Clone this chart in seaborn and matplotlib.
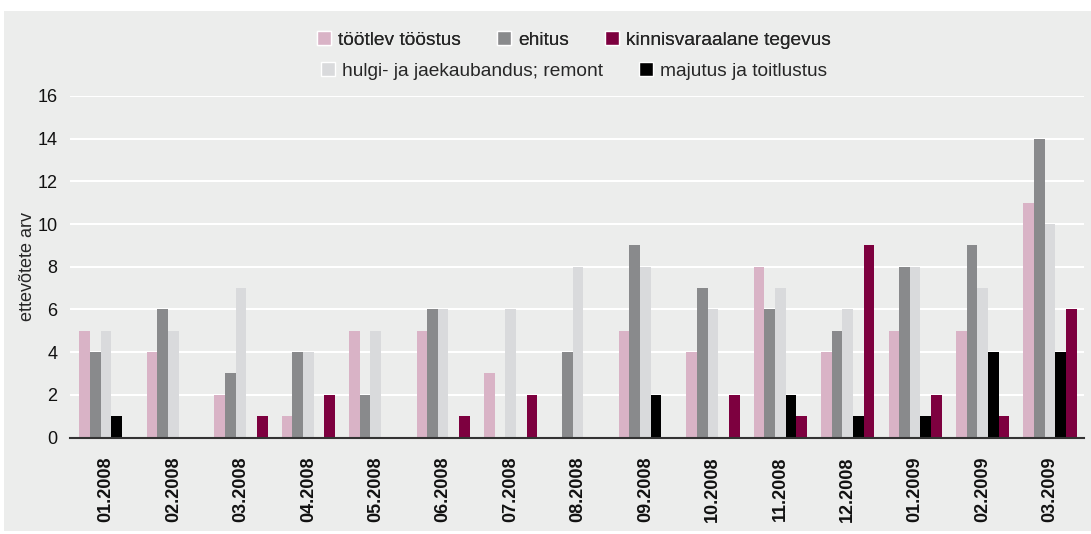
import matplotlib
matplotlib.use("Agg")
import matplotlib.pyplot as plt
from matplotlib.patches import Patch, Rectangle
import seaborn as sns
import pandas as pd

months = ["01.2008", "02.2008", "03.2008", "04.2008", "05.2008", "06.2008", "07.2008",
          "08.2008", "09.2008", "10.2008", "11.2008", "12.2008", "01.2009", "02.2009", "03.2009"]
tootlev = [5, 4, 2, 1, 5, 5, 3, 0, 5, 4, 8, 4, 5, 5, 11]
ehitus = [4, 6, 3, 4, 2, 6, 0, 4, 9, 7, 6, 5, 8, 9, 14]
hulgi = [5, 5, 7, 4, 5, 6, 6, 8, 8, 6, 7, 6, 8, 7, 10]
majutus = [1, 0, 0, 0, 0, 0, 0, 0, 2, 0, 2, 1, 1, 4, 4]
kinnisvara = [0, 0, 1, 2, 0, 1, 2, 0, 0, 2, 1, 9, 2, 1, 6]

bar_order = ["töötlev tööstus", "ehitus", "hulgi- ja jaekaubandus; remont",
             "majutus ja toitlustus", "kinnisvaraalane tegevus"]
legend_row1 = ["töötlev tööstus", "ehitus", "kinnisvaraalane tegevus"]
legend_row2 = ["hulgi- ja jaekaubandus; remont", "majutus ja toitlustus"]
values = {
    "töötlev tööstus": tootlev,
    "ehitus": ehitus,
    "hulgi- ja jaekaubandus; remont": hulgi,
    "majutus ja toitlustus": majutus,
    "kinnisvaraalane tegevus": kinnisvara,
}
colors = {
    "töötlev tööstus": "#D9B3C6",
    "ehitus": "#898A8C",
    "hulgi- ja jaekaubandus; remont": "#D9DADC",
    "majutus ja toitlustus": "#000000",
    "kinnisvaraalane tegevus": "#7D003F",
}

rows = []
for s in bar_order:
    for m, v in zip(months, values[s]):
        rows.append({"month": m, "series": s, "value": v})
df = pd.DataFrame(rows)

sns.set_theme(style="white")
plt.rcParams["font.family"] = ["Liberation Sans", "DejaVu Sans"]
bg = "#ECEDEC"
W, H = 1091, 534

fig = plt.figure(figsize=(W / 100, H / 100), dpi=100, facecolor="white")
fig.patches.append(Rectangle((4 / W, 3 / H), 1 - 4 / W, 1 - 14 / H,
                             transform=fig.transFigure, facecolor=bg,
                             edgecolor="none", zorder=-10))
ax = fig.add_axes([70 / W, (H - 437.5) / H, 1014 / W, (437.5 - 96) / H])
ax.set_facecolor(bg)

sns.barplot(data=df, x="month", y="value", hue="series", hue_order=bar_order,
            palette=colors, width=0.79, saturation=1, linewidth=0,
            ax=ax, legend=False)

ax.set_ylim(0, 16)
ax.set_yticks(range(0, 17, 2))
ax.set_xlim(-0.534, len(months) - 1 + 0.504)
ax.yaxis.grid(True, color="white", linewidth=1.5)
ax.set_axisbelow(True)
for sp in ["top", "right", "left"]:
    ax.spines[sp].set_visible(False)
ax.spines["bottom"].set_color("#333333")
ax.spines["bottom"].set_linewidth(1.5)
ax.tick_params(axis="both", length=0, labelsize=13, colors="#111111")
ax.tick_params(axis="y", pad=9)
ax.tick_params(axis="x", pad=14)
ax.set_xlabel("")
ax.set_ylabel("ettevõtete arv", fontsize=13, labelpad=1)
plt.setp(ax.get_xticklabels(), rotation=90, fontweight="bold")

leg_kw = dict(loc="center", frameon=False, fontsize=13.8, handlelength=0.73,
              handleheight=0.73, columnspacing=1.88, handletextpad=0.37,
              borderpad=0, borderaxespad=0)
h1 = [Patch(facecolor=colors[s], label=s) for s in legend_row1]
h2 = [Patch(facecolor=colors[s], label=s) for s in legend_row2]
l1 = fig.legend(handles=h1, ncol=3, bbox_to_anchor=(0.526, 1 - 40 / H), **leg_kw)
fig.add_artist(l1)
fig.legend(handles=h2, ncol=2, bbox_to_anchor=(0.526, 1 - 71 / H), **leg_kw)

fig.savefig("out.png", dpi=100, facecolor="white")
